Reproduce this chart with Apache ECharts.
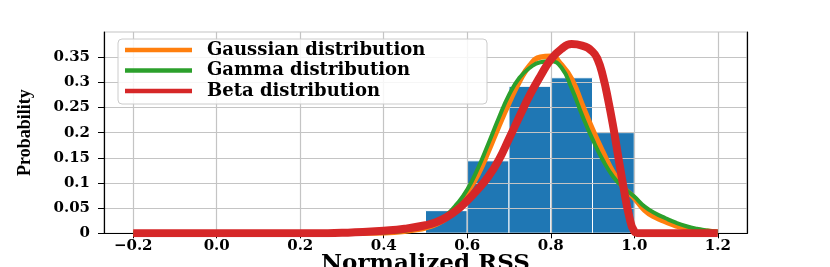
<!DOCTYPE html>
<html><head><meta charset="utf-8">
<script src="https://cdn.jsdelivr.net/npm/echarts@6/dist/echarts.min.js"></script>
<style>html,body{margin:0;padding:0;background:#fff}#c{width:830px;height:267px}</style>
</head><body><div id="c"></div>
<script>
// ---- data ----
const xTicks = [-0.2, 0.0, 0.2, 0.4, 0.6, 0.8, 1.0, 1.2];
const yTicks = [0, 0.05, 0.1, 0.15, 0.2, 0.25, 0.3, 0.35];
const seriesNames = ['Gaussian distribution', 'Gamma distribution', 'Beta distribution'];

const binLeft  = [0.5, 0.6, 0.7, 0.8, 0.9];
const binRight = [0.6, 0.7, 0.8, 0.9, 1.0];
const binProb  = [0.045, 0.144, 0.292, 0.309, 0.200];

const gaussX = [-0.2, 0.3, 0.35, 0.4, 0.425, 0.45, 0.475, 0.5, 0.525, 0.55, 0.575, 0.6, 0.625, 0.65, 0.675, 0.7, 0.725, 0.75, 0.775, 0.8, 0.825, 0.85, 0.875, 0.9, 0.925, 0.95, 0.975, 1.0, 1.025, 1.05, 1.075, 1.1, 1.125, 1.15, 1.175, 1.2];
const gaussY = [0, 0, 0.0003, 0.001, 0.002, 0.004, 0.007, 0.011, 0.018, 0.03, 0.052, 0.082, 0.116, 0.162, 0.212, 0.259, 0.302, 0.334, 0.35, 0.352, 0.335, 0.306, 0.256, 0.206, 0.161, 0.12, 0.09, 0.07, 0.046, 0.032, 0.023, 0.015, 0.011, 0.0065, 0.004, 0.002];

const gammaX = [-0.2, 0.3, 0.35, 0.4, 0.425, 0.45, 0.475, 0.5, 0.525, 0.55, 0.575, 0.6, 0.625, 0.65, 0.675, 0.7, 0.725, 0.75, 0.775, 0.8, 0.825, 0.85, 0.875, 0.9, 0.925, 0.95, 0.975, 1.0, 1.025, 1.05, 1.075, 1.1, 1.125, 1.15, 1.175, 1.2];
const gammaY = [0, 0, 0.0004, 0.0015, 0.003, 0.005, 0.009, 0.014, 0.022, 0.036, 0.058, 0.087, 0.128, 0.177, 0.228, 0.275, 0.309, 0.329, 0.34, 0.342, 0.33, 0.288, 0.235, 0.187, 0.145, 0.112, 0.09, 0.073, 0.053, 0.04, 0.03, 0.021, 0.014, 0.009, 0.0055, 0.003];

const betaX = [-0.2, 0.25, 0.3, 0.35, 0.4, 0.45, 0.5, 0.525, 0.55, 0.575, 0.6, 0.625, 0.65, 0.675, 0.7, 0.725, 0.75, 0.775, 0.8, 0.825, 0.85, 0.875, 0.9, 0.9125, 0.925, 0.9375, 0.95, 0.9625, 0.975, 0.9875, 1.0, 1.0125, 1.05, 1.2];
const betaY = [0, 0, 0.001, 0.0025, 0.005, 0.009, 0.016, 0.022, 0.032, 0.046, 0.065, 0.087, 0.112, 0.145, 0.188, 0.232, 0.275, 0.312, 0.345, 0.366, 0.376, 0.373, 0.361, 0.345, 0.312, 0.265, 0.21, 0.148, 0.088, 0.035, 0.004, 0, 0, 0];

// ---- build ----
const zip = (a, b) => a.map((v, i) => [v, b[i]]);
const bins = binLeft.map((l, i) => [l, binRight[i], binProb[i]]);
const serifBold = {fontFamily: 'DejaVu Serif', fontWeight: 'bold', color: '#000'};

const chart = echarts.init(document.getElementById('c'), null, {renderer: 'canvas'});
chart.setOption({
  animation: false,
  backgroundColor: '#fff',
  grid: {left: 104, right: 83, top: 32, height: 201.3, show: true, borderColor: '#c4c4c4', borderWidth: 1.2,
    backgroundColor: 'transparent', containLabel: false, outerBoundsMode: 'none'},
  legend: {
    orient: 'vertical', left: 118, top: 39, padding: [2, 10, 4, 7], itemGap: 2.5,
    itemWidth: 67, itemHeight: 4.5, icon: 'rect',
    backgroundColor: 'rgba(255,255,255,0.85)', borderColor: '#cccccc', borderWidth: 1, borderRadius: 4,
    textStyle: Object.assign({fontSize: 18, lineHeight: 17, width: 270, padding: [0, 0, 0, 10]}, serifBold),
    data: seriesNames
  },
  xAxis: {
    type: 'value', min: -0.27, max: 1.27,
    name: 'Normalized RSS', nameLocation: 'middle', nameGap: 19, nameMoveOverlap: false,
    nameTextStyle: Object.assign({fontSize: 23}, serifBold),
    axisLine: {show: true, onZero: false, lineStyle: {color: '#000', width: 1.2}},
    axisTick: {show: true, customValues: xTicks, length: 5, lineStyle: {color: '#000', width: 1}},
    axisLabel: Object.assign({customValues: xTicks, fontSize: 15, margin: 5,
      formatter: v => (v < -1e-9 ? '\u2212' : '') + Math.abs(v).toFixed(1)}, serifBold),
    splitLine: {show: true, lineStyle: {color: '#c4c4c4', width: 1.2}}
  },
  yAxis: [{
    type: 'value', min: 0, max: 0.4,
    name: 'Probability', nameLocation: 'middle', nameGap: 70, nameRotate: 90, nameMoveOverlap: false,
    nameTextStyle: {fontFamily: 'Liberation Serif', fontWeight: 'bold', fontSize: 18, color: '#000'},
    axisLine: {show: true, onZero: false, lineStyle: {color: '#000', width: 1.2}},
    axisTick: {show: true, customValues: yTicks, length: 6, lineStyle: {color: '#000', width: 1}},
    axisLabel: Object.assign({customValues: yTicks, fontSize: 15, margin: 14,
      formatter: v => String(+(+v).toFixed(2))}, serifBold),
    splitLine: {show: true, lineStyle: {color: '#c4c4c4', width: 1.2}}
  }, {
    type: 'value', min: 0, max: 0.4, position: 'right',
    axisLine: {show: true, onZero: false, lineStyle: {color: '#000', width: 1.2}},
    axisTick: {show: false}, axisLabel: {show: false}, splitLine: {show: false}
  }],
  series: [
    {
      type: 'custom', name: 'hist', z: -1, silent: true,
      encode: {x: [0, 1], y: 2},
      data: bins,
      renderItem: (params, api) => {
        const p0 = api.coord([api.value(0), api.value(2)]);
        const p1 = api.coord([api.value(1), 0]);
        return {type: 'rect', shape: {x: p0[0], y: p0[1], width: p1[0] - p0[0], height: p1[1] - p0[1]},
          style: {fill: '#1f77b4', stroke: '#ffffff', lineWidth: 1}};
      }
    },
    {type: 'line', name: seriesNames[0], data: zip(gaussX, gaussY), smooth: 0.5, showSymbol: false, symbol: 'none',
      color: '#ff7f0e', lineStyle: {color: '#ff7f0e', width: 5.5, join: 'round'}, z: 3},
    {type: 'line', name: seriesNames[1], data: zip(gammaX, gammaY), smooth: 0.5, showSymbol: false, symbol: 'none',
      color: '#2ca02c', lineStyle: {color: '#2ca02c', width: 4, join: 'round'}, z: 4},
    {type: 'line', name: seriesNames[2], data: zip(betaX, betaY), smooth: 0.5, showSymbol: false, symbol: 'none',
      color: '#d62728', lineStyle: {color: '#d62728', width: 8, join: 'round'}, z: 5}
  ]
});
</script></body></html>
